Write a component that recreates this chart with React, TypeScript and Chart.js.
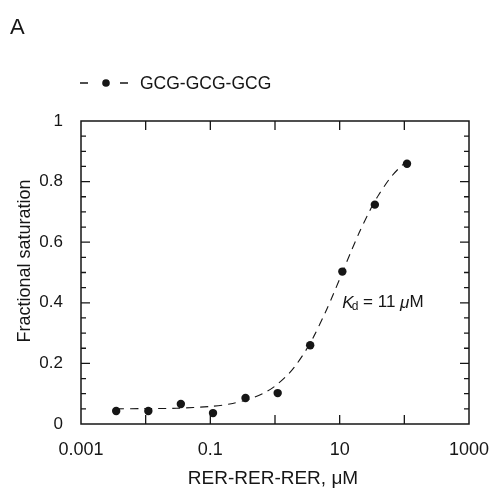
import React, { useEffect, useRef } from "react";
import { Chart, registerables } from "chart.js";
Chart.register(...registerables);

// measured data points
const concentrations = [0.0035, 0.011, 0.035, 0.11, 0.35, 1.1, 3.5, 11, 35, 110];
const saturation = [0.043, 0.043, 0.066, 0.036, 0.086, 0.102, 0.26, 0.503, 0.724, 0.859];
// dashed fitted curve
const fitX = [0.0035, 0.01, 0.03, 0.1, 0.2, 0.4, 0.7, 1, 1.5, 2, 3, 4, 6, 8, 11, 15, 20, 30, 40, 60, 80, 110];
const fitY = [0.05, 0.051, 0.052, 0.058, 0.066, 0.082, 0.104, 0.125, 0.158, 0.188, 0.243, 0.29, 0.368, 0.429, 0.5, 0.569, 0.631, 0.709, 0.756, 0.811, 0.841, 0.868];

const xTickValues = [0.001, 0.01, 0.1, 1, 10, 100, 1000];
const xTickLabels = ["0.001", "", "0.1", "", "10", "", "1000"];
const yTickValues = [0, 0.2, 0.4, 0.6, 0.8, 1];
const yTickLabels = ["0", "0.2", "0.4", "0.6", "0.8", "1"];
const yMinorStep = 0.05;

const seriesName = "GCG-GCG-GCG";
const panelLabel = "A";
const xTitle = "RER-RER-RER, μM";
const yTitle = "Fractional saturation";
const kdValue = 11;
const kdLabelY = 0.4;

const INK = "#161616";
const FONT = "'Liberation Sans', Arial, sans-serif";

const framePlugin = {
  id: "frame",
  afterDraw(chart: any) {
    const { ctx, chartArea: a, scales } = chart;
    const xs = scales.x;
    const ys = scales.y;
    ctx.save();
    ctx.strokeStyle = INK;
    ctx.lineWidth = 1.5;
    ctx.strokeRect(a.left, a.top, a.right - a.left, a.bottom - a.top);
    ctx.lineWidth = 1.3;
    // x ticks (inward, bottom and top)
    for (const v of xTickValues) {
      const px = xs.getPixelForValue(v);
      if (px <= a.left + 1 || px >= a.right - 1) continue;
      ctx.beginPath();
      ctx.moveTo(px, a.bottom);
      ctx.lineTo(px, a.bottom - 9);
      ctx.moveTo(px, a.top);
      ctx.lineTo(px, a.top + 9);
      ctx.stroke();
    }
    // y ticks (inward, left and right)
    for (let i = 1; i < 20; i++) {
      const v = i * yMinorStep;
      const major = i % 4 === 0;
      const len = major ? 9 : 5;
      const py = ys.getPixelForValue(v);
      ctx.beginPath();
      ctx.moveTo(a.left, py);
      ctx.lineTo(a.left + len, py);
      ctx.moveTo(a.right, py);
      ctx.lineTo(a.right - len, py);
      ctx.stroke();
    }
    ctx.fillStyle = INK;
    // panel label
    ctx.font = `22px ${FONT}`;
    ctx.textBaseline = "alphabetic";
    ctx.textAlign = "left";
    ctx.fillText(panelLabel, 10, 34);
    // legend
    const ly = 83;
    ctx.lineWidth = 1.3;
    ctx.beginPath();
    ctx.moveTo(80, ly);
    ctx.lineTo(88, ly);
    ctx.moveTo(120, ly);
    ctx.lineTo(128, ly);
    ctx.stroke();
    ctx.beginPath();
    ctx.arc(106, ly, 3.8, 0, Math.PI * 2);
    ctx.fill();
    ctx.font = `17.5px ${FONT}`;
    ctx.textBaseline = "middle";
    ctx.fillText(seriesName, 140, ly + 1);
    // y title
    ctx.save();
    ctx.translate(25, 261);
    ctx.rotate(-Math.PI / 2);
    ctx.textAlign = "center";
    ctx.font = `18px ${FONT}`;
    ctx.fillText(yTitle, 0, 0);
    ctx.restore();
    // x title
    ctx.textAlign = "center";
    ctx.font = `19px ${FONT}`;
    ctx.fillText(xTitle, 273, 479);
    // Kd annotation
    const kx = xs.getPixelForValue(kdValue);
    const ky = ys.getPixelForValue(kdLabelY);
    ctx.textAlign = "left";
    ctx.font = `italic 17px ${FONT}`;
    ctx.fillText("K", kx, ky);
    let w = ctx.measureText("K").width;
    ctx.font = `12px ${FONT}`;
    ctx.fillText("d", kx + w - 2, ky + 4);
    w += ctx.measureText("d").width - 2;
    ctx.font = `17px ${FONT}`;
    const s1 = " = " + kdValue + " ";
    ctx.fillText(s1, kx + w, ky);
    w += ctx.measureText(s1).width;
    ctx.font = `italic 17px ${FONT}`;
    ctx.fillText("μ", kx + w, ky);
    w += ctx.measureText("μ").width;
    ctx.font = `17px ${FONT}`;
    ctx.fillText("M", kx + w, ky);
    ctx.restore();
  },
};

export default function App() {
  const ref = useRef<HTMLCanvasElement | null>(null);
  useEffect(() => {
    if (!ref.current) return;
    const chart = new Chart(ref.current, {
      type: "scatter",
      data: {
        datasets: [
          {
            label: seriesName + " fit",
            data: fitX.map((x, i) => ({ x, y: fitY[i] })),
            showLine: true,
            borderColor: INK,
            borderWidth: 1.1,
            borderDash: [8, 6],
            pointRadius: 0,
            tension: 0.3,
          },
          {
            label: seriesName,
            data: concentrations.map((x, i) => ({ x, y: saturation[i] })),
            showLine: false,
            pointRadius: 4.2,
            pointBackgroundColor: INK,
            pointBorderColor: INK,
            pointBorderWidth: 0,
          },
        ],
      },
      options: {
        responsive: false,
        animation: false,
        layout: { padding: { left: 0, right: 27, top: 121, bottom: 0 } },
        plugins: { legend: { display: false }, tooltip: { enabled: false } },
        scales: {
          x: {
            type: "logarithmic",
            min: 0.001,
            max: 1000,
            bounds: "data",
            grid: { display: false, drawTicks: false },
            border: { display: false },
            afterBuildTicks: (s: any) => {
              s.ticks = xTickValues.map((v) => ({ value: v }));
            },
            afterFit: (s: any) => {
              s.height = 67;
              s.paddingLeft = 0;
              s.paddingRight = 0;
            },
            ticks: {
              autoSkip: false,
              maxRotation: 0,
              padding: 15,
              color: INK,
              font: { family: FONT, size: 18 },
              callback: (v: any) => {
                const i = xTickValues.findIndex((t) => Math.abs(t - Number(v)) < t * 1e-6);
                return i >= 0 ? xTickLabels[i] : "";
              },
            },
          },
          y: {
            type: "linear",
            min: 0,
            max: 1,
            grid: { display: false, drawTicks: false },
            border: { display: false },
            afterBuildTicks: (s: any) => {
              s.ticks = yTickValues.map((v) => ({ value: v }));
            },
            afterFit: (s: any) => {
              s.width = 81;
              s.paddingTop = 0;
              s.paddingBottom = 0;
            },
            ticks: {
              padding: 18,
              color: INK,
              font: { family: FONT, size: 17 },
              callback: (v: any) => {
                const i = yTickValues.findIndex((t) => Math.abs(t - Number(v)) < 1e-6);
                return i >= 0 ? yTickLabels[i] : "";
              },
            },
          },
        },
      },
      plugins: [framePlugin],
    } as any);
    return () => chart.destroy();
  }, []);
  return (
    <div style={{ position: "fixed", left: 0, top: 0, width: 496, height: 491, background: "#fff" }}>
      <canvas ref={ref} width={496} height={491} style={{ width: 496, height: 491, display: "block" }} />
    </div>
  );
}
